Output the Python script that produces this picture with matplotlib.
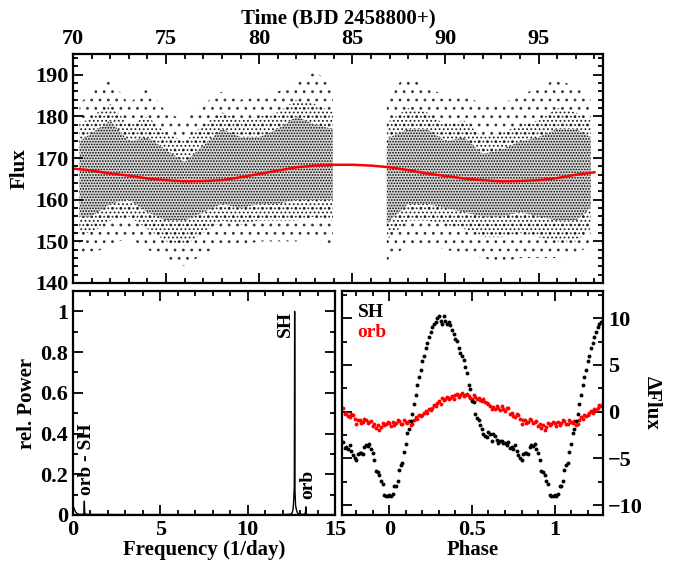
import numpy as np
import matplotlib
matplotlib.use('Agg')
import matplotlib.pyplot as plt
from matplotlib.ticker import MultipleLocator

plt.rcParams['font.family'] = ['Liberation Serif', 'DejaVu Serif']
plt.rcParams['font.weight'] = 'bold'
plt.rcParams['hatch.linewidth'] = 0.8

# light curve cloud, read as envelopes per day (two orbits with data gap)
t1 = [70.35, 71, 72, 73, 74, 75, 76, 77, 78, 79, 80, 81, 82, 83, 83.95]
core_hi1 = [174, 176, 179, 174, 175, 172, 169, 173, 177, 175, 175, 177, 180, 178, 177]
core_lo1 = [156, 156, 159, 160, 157, 155, 155, 157, 159, 158, 159, 159, 160, 160, 160]
mid_hi1 = [178, 180, 183, 178, 180, 176, 174, 178, 181, 179, 180, 181, 184, 183, 181]
mid_lo1 = [152, 152, 155, 156, 153, 150, 149, 152, 155, 154, 155, 155, 155, 156, 155]
out_hi1 = [183, 186, 189, 183, 187, 181, 179, 183, 186, 184, 185, 186, 188, 191, 187]
out_lo1 = [147, 147, 149, 151, 148, 146, 144, 147, 149, 149, 150, 150, 150, 151, 149]

t2 = [86.85, 87, 88, 89, 90, 91, 92, 93, 94, 95, 96, 97, 97.8]
core_hi2 = [173, 175, 177, 177, 174, 175, 171, 172, 174, 175, 177, 177, 175]
core_lo2 = [154, 155, 159, 159, 158, 157, 156, 156, 157, 156, 155, 155, 158]
mid_hi2 = [177, 179, 182, 181, 178, 179, 175, 176, 178, 179, 182, 181, 179]
mid_lo2 = [149, 151, 155, 155, 154, 153, 151, 151, 152, 151, 150, 150, 153]
out_hi2 = [182, 186, 190, 187, 185, 185, 183, 183, 185, 187, 189, 187, 185]
out_lo2 = [145, 146, 149, 149, 148, 147, 146, 145, 146, 146, 146, 147, 149]

# orbital fit (red)
t_fit = list(range(70, 99))
flux_fit = [167.5, 167.0, 166.3, 165.8, 165.1, 164.7, 164.4, 164.5, 164.7, 165.4,
            166.2, 167.0, 167.8, 168.2, 168.4, 168.4, 168.2, 167.8, 167.1, 166.3,
            165.7, 165.1, 164.7, 164.4, 164.5, 164.7, 165.2, 166.0, 166.6]

# periodogram
freq = [0, 0.03, 0.06, 0.1, 0.15, 0.2, 0.3, 0.5, 0.62, 0.64, 0.65, 0.66, 0.68, 0.8,
        3, 6, 9, 12, 12.45, 12.55, 12.6, 12.64, 12.67, 12.68, 12.69, 12.70, 12.71,
        12.74, 12.78, 12.85, 12.95, 13.2, 13.31, 13.33, 13.34, 13.35, 13.37, 13.5, 15]
power = [0.0, 0.04, 0.03, 0.025, 0.015, 0.01, 0.004, 0.003, 0.005, 0.04, 0.068, 0.03,
         0.005, 0.003, 0.002, 0.002, 0.002, 0.002, 0.004, 0.01, 0.03, 0.08, 0.14, 0.5,
         1.0, 0.6, 0.12, 0.05, 0.03, 0.01, 0.005, 0.003, 0.01, 0.04, 0.02, 0.005,
         0.003, 0.002, 0.002]

# phase folded curves, bins of 0.01 in phase
phase = np.arange(100) / 100.0
sh_flux = [-8.9, -9.0, -8.8, -8.0, -7.9, -7.4, -6.2, -5.7, -5.5, -4.3,
           -3.5, -2.3, -1.9, -1.0, -0.3, 0.8, 1.8, 2.8, 3.7, 4.5,
           5.4, 5.9, 6.8, 7.3, 8.0, 8.5, 9.05, 9.4, 9.6, 10.0,
           10.2, 9.7, 9.4, 10.2, 9.7, 9.4, 9.6, 9.3, 8.7, 8.3,
           7.8, 7.6, 6.8, 6.3, 5.9, 5.5, 4.8, 4.1, 2.9, 2.4,
           1.1, 1.0, -0.2, -0.7, -0.9, -1.4, -1.9, -2.4, -2.6, -2.7,
           -2.2, -2.4, -3.1, -2.4, -2.6, -3.0, -3.3, -3.1, -3.1, -3.3,
           -3.4, -3.6, -3.2, -3.9, -3.8, -4.0, -3.6, -4.2, -4.6, -5.0,
           -5.2, -4.5, -4.4, -4.4, -4.5, -3.8, -3.6, -3.7, -3.5, -4.0,
           -4.4, -5.2, -6.3, -6.5, -6.8, -7.4, -7.7, -8.9, -9.0, -9.0]
orb_flux = [-1.2, -1.5, -1.1, -1.4, -1.2, -0.9, -1.0, -1.3, -1.3, -0.9,
            -1.1, -1.2, -1.0, -1.4, -1.3, -0.9, -0.6, -0.8, -0.4, -0.5,
            -0.4, -0.1, 0.1, -0.1, 0.3, 0.2, 0.4, 0.7, 0.6, 0.9,
            1.1, 0.8, 1.5, 1.2, 1.3, 1.6, 1.3, 1.5, 1.7, 1.4,
            1.8, 1.9, 1.6, 1.8, 2.0, 1.7, 1.8, 1.9, 1.7, 1.5,
            1.4, 1.8, 1.6, 1.3, 1.5, 1.2, 1.1, 1.3, 1.0, 0.9,
            0.8, 0.6, 0.3, 0.5, 0.3, 0.6, 0.4, 0.2, 0.6, 0.3,
            0.1, 0.4, 0.4, -0.2, -0.1, -0.5, -0.6, -0.2, -0.4, -0.8,
            -1.3, -0.9, -0.9, -1.2, -1.1, -0.8, -0.9, -1.2, -1.1, -1.0,
            -1.5, -1.3, -1.7, -1.4, -2.0, -1.6, -1.2, -1.4, -1.3, -1.1]

PH_MIN, PH_MAX = -0.286, 1.293
TICK_FS = 16
LABEL_FS = 15


def style(ax, lw=1.6):
    for s in ax.spines.values():
        s.set_linewidth(lw)
    ax.tick_params(which='both', direction='in', top=True, right=True,
                   width=1.3, labelsize=TICK_FS)
    ax.tick_params(which='major', length=7)
    ax.tick_params(which='minor', length=3.5)


def fold(vals):
    xs, ys = [], []
    for k in (-1, 0, 1):
        for p, v in zip(phase, vals):
            x = p + k
            if PH_MIN <= x <= PH_MAX:
                xs.append(x)
                ys.append(v)
    return xs, ys


fig = plt.figure(figsize=(6.76, 5.68), dpi=100)
ax1 = fig.add_axes([73 / 676, 1 - 283 / 568, 530 / 676, 229 / 568])
ax2 = fig.add_axes([73 / 676, 1 - 515 / 568, 262 / 676, 224 / 568])
ax3 = fig.add_axes([342 / 676, 1 - 515 / 568, 261 / 676, 224 / 568])

# top: light curve, drawn as stippled density layers
segments = [(t1, out_lo1, out_hi1, mid_lo1, mid_hi1, core_lo1, core_hi1),
            (t2, out_lo2, out_hi2, mid_lo2, mid_hi2, core_lo2, core_hi2)]
for t, ol, oh, ml, mh, cl, ch in segments:
    ax1.fill_between(t, ol, oh, facecolor='none', edgecolor='#333333',
                     hatch='..', linewidth=0)
    ax1.fill_between(t, ml, mh, facecolor='none', edgecolor='#222222',
                     hatch='....', linewidth=0)
    ax1.fill_between(t, cl, ch, facecolor='#d8d8d8', edgecolor='black',
                     hatch='......', linewidth=0)
ax1.plot(t_fit, flux_fit, color='red', lw=1.8)
ax1.set_xlim(70, 98.46)
ax1.set_ylim(140, 195)
ax1.xaxis.set_major_locator(MultipleLocator(5))
ax1.xaxis.set_minor_locator(MultipleLocator(1))
ax1.yaxis.set_major_locator(MultipleLocator(10))
ax1.yaxis.set_minor_locator(MultipleLocator(2))
style(ax1)
ax1.tick_params(labelbottom=False, labeltop=True)
ax1.xaxis.set_label_position('top')
ax1.set_xlabel('Time (BJD 2458800+)', fontsize=LABEL_FS, fontweight='bold',
               labelpad=4)
ax1.set_ylabel('Flux', fontsize=LABEL_FS, fontweight='bold', labelpad=4)

# bottom left: periodogram
ax2.plot(freq, power, color='black', lw=1.0)
ax2.set_xlim(0, 15)
ax2.set_ylim(0, 1.1)
ax2.xaxis.set_major_locator(MultipleLocator(5))
ax2.xaxis.set_minor_locator(MultipleLocator(1))
ax2.yaxis.set_minor_locator(MultipleLocator(0.1))
ax2.set_yticks([0, 0.2, 0.4, 0.6, 0.8, 1.0])
ax2.set_yticklabels(['0', '0.2', '0.4', '0.6', '0.8', '1'])
style(ax2)
ax2.set_xlabel('Frequency (1/day)', fontsize=LABEL_FS, fontweight='bold',
               labelpad=0)
ax2.set_ylabel('rel. Power', fontsize=LABEL_FS, fontweight='bold', labelpad=2)
ax2.text(12.16, 1.0, 'SH', rotation=90, ha='center', va='top', fontsize=14,
         fontweight='bold')
ax2.text(13.45, 0.08, 'orb', rotation=90, ha='center', va='bottom', fontsize=14,
         fontweight='bold')
ax2.text(0.76, 0.1, 'orb - SH', rotation=90, ha='center', va='bottom',
         fontsize=14, fontweight='bold')

# bottom right: phase folded
xs, ys = fold(orb_flux)
ax3.plot(xs, ys, 'o', color='red', ms=2.8, mew=0)
xs, ys = fold(sh_flux)
ax3.plot(xs, ys, 'o', color='black', ms=2.8, mew=0)
ax3.set_xlim(PH_MIN, PH_MAX)
ax3.set_ylim(-11.05, 12.9)
ax3.xaxis.set_minor_locator(MultipleLocator(0.1))
ax3.yaxis.set_major_locator(MultipleLocator(5))
ax3.yaxis.set_minor_locator(MultipleLocator(2.5))
ax3.set_xticks([0, 0.5, 1])
ax3.set_xticklabels(['0', '0.5', '1'])
style(ax3)
ax3.tick_params(labelleft=False, labelright=True)
ax3.yaxis.set_label_position('right')
ax3.set_xlabel('Phase', fontsize=LABEL_FS, fontweight='bold', labelpad=0)
ax3.set_ylabel('\u0394Flux', fontsize=LABEL_FS, fontweight='bold', rotation=270,
               labelpad=14)
ax3.text(0.06, 0.905, 'SH', transform=ax3.transAxes, color='black', fontsize=14,
         fontweight='bold', va='center')
ax3.text(0.06, 0.815, 'orb', transform=ax3.transAxes, color='red', fontsize=14,
         fontweight='bold', va='center')

fig.savefig('out.png', dpi=100)
